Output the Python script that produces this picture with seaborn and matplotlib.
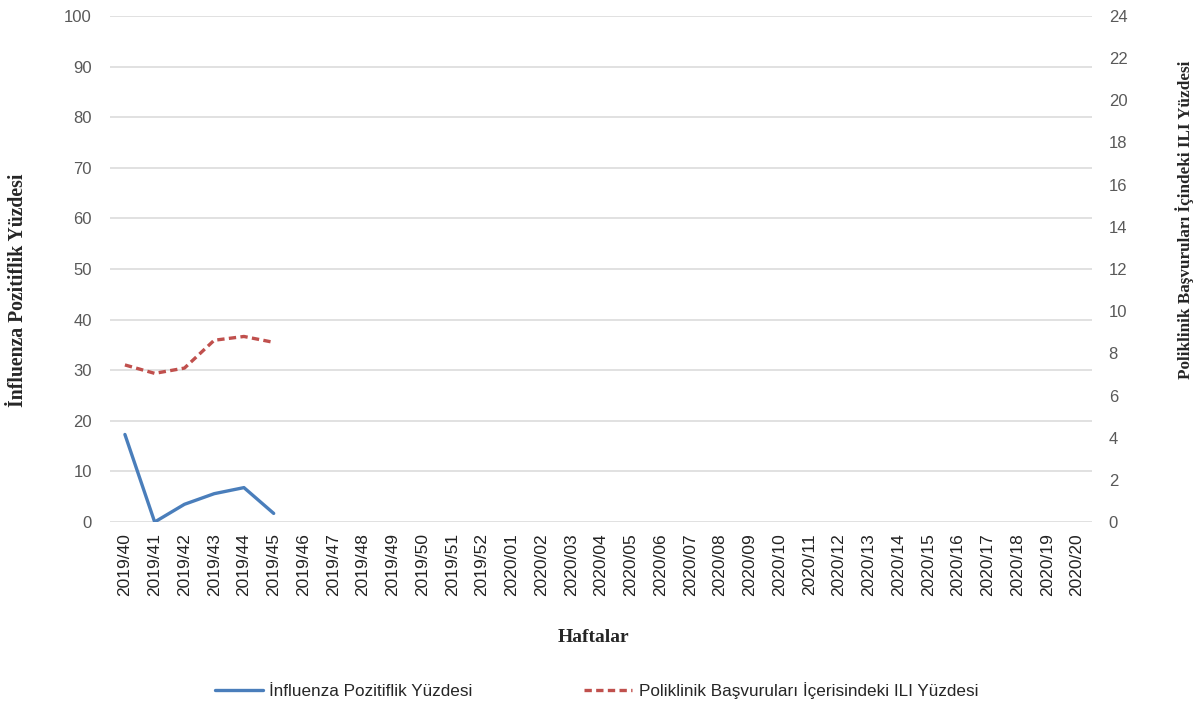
import pandas as pd
import matplotlib.pyplot as plt
import seaborn as sns
from matplotlib.lines import Line2D

# Weeks on the x axis
weeks = ["2019/%d" % w for w in range(40, 53)] + ["2020/%02d" % w for w in range(1, 21)]

# Observed weeks only (rest of season not reported yet)
observed = ["2019/40", "2019/41", "2019/42", "2019/43", "2019/44", "2019/45"]
influenza_pos = [17.3, 0.0, 3.5, 5.6, 6.8, 1.7]
ili_pct = [7.45, 7.05, 7.3, 8.62, 8.8, 8.52]

label_left = "İnfluenza Pozitiflik Yüzdesi"
label_right = "Poliklinik Başvuruları İçindeki ILI Yüzdesi"
legend_left = "İnfluenza Pozitiflik Yüzdesi"
legend_right = "Poliklinik Başvuruları İçerisindeki ILI Yüzdesi"

df = pd.DataFrame({
    "Hafta": observed,
    "pos": [weeks.index(w) for w in observed],
    "Influenza": influenza_pos,
    "ILI": ili_pct,
})

sns.set_style("white")
plt.rcParams["font.family"] = ["Liberation Sans", "DejaVu Sans"]

blue = "#4a7ebb"
red = "#c0504d"
tick_col = "#595959"

fig = plt.figure(figsize=(12, 7.04), dpi=100)
ax = fig.add_axes([0.0917, 0.2585, 0.8183, 0.7188])
ax2 = ax.twinx()

sns.lineplot(data=df, x="pos", y="Influenza", ax=ax, color=blue, linewidth=2.4)
sns.lineplot(data=df, x="pos", y="ILI", ax=ax2, color=red, linewidth=2.4,
             linestyle=(0, (2.2, 1.3)))

ax.set_xlim(-0.5, len(weeks) - 0.5)
ax.set_ylim(0, 100)
ax.set_yticks(range(0, 101, 10))
ax2.set_ylim(0, 24)
ax2.set_yticks(range(0, 25, 2))

ax.set_xticks(range(len(weeks)))
ax.set_xticklabels(weeks, rotation=90, fontsize=12.5, color="#222222")
ax.tick_params(axis="x", length=0, pad=8)
ax.tick_params(axis="y", length=0, pad=13, labelsize=12, labelcolor=tick_col)
ax2.tick_params(axis="y", length=0, pad=12, labelsize=12, labelcolor=tick_col)

ax.grid(axis="y", color="#d9d9d9", linewidth=1.1)
ax.set_axisbelow(True)
for a in (ax, ax2):
    for s in a.spines.values():
        s.set_visible(False)

serif = dict(family=["Liberation Serif", "DejaVu Serif"], fontweight="bold")
ax.set_xlabel("Haftalar", fontsize=14, **serif)
ax.set_ylabel(label_left, fontsize=14.2, **serif)
ax2.set_ylabel(label_right, fontsize=12.3, **serif)
ax.xaxis.set_label_coords(0.492, -0.212)
ax.yaxis.set_label_coords(-0.084, 0.458)
ax2.yaxis.set_label_coords(1.085, 0.597)

handles = [Line2D([], [], color=blue, linewidth=2.4),
           Line2D([], [], color=red, linewidth=2.4, linestyle=(0, (2.2, 1.3)))]
fig.legend(handles, [legend_left, legend_right], loc="center",
           bbox_to_anchor=(0.497, 0.0185), ncol=2, frameon=False,
           fontsize=12.3, handlelength=2.8, columnspacing=6.5, handletextpad=0.4)

plt.savefig("out.png", dpi=100)
plt.close()
